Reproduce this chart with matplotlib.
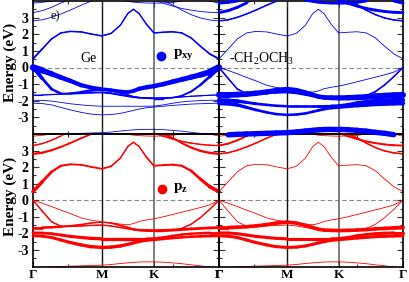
import matplotlib.pyplot as plt
import numpy as np
from matplotlib.collections import LineCollection

plt.rcParams['font.family'] = 'Liberation Serif'
plt.rcParams['mathtext.fontset'] = 'custom'
plt.rcParams['mathtext.rm'] = 'Liberation Serif'
plt.rcParams['mathtext.bf'] = 'Liberation Serif:bold'

# k-path Gamma - M - K - Gamma (fraction of path length)
kx = [0.00, 0.05, 0.10, 0.15, 0.20, 0.26, 0.31, 0.37, 0.42, 0.47, 0.51,
      0.54, 0.57, 0.61, 0.65, 0.70, 0.75, 0.80, 0.85, 0.90, 0.95, 1.00]
k_ticks = [0.0, 0.37, 0.65, 1.0]
k_labels = ['Γ', 'M', 'K', 'Γ']

# band energies (eV), same for all four panels
cb4 = [3.87, 3.92, 4.0, 4.1, 4.2, 4.3, 4.3, 4.25, 4.15, 4.05, 3.98,
       3.93, 3.9, 3.88, 3.87, 3.88, 3.92, 4.0, 4.1, 4.1, 4.0, 3.87]
cb3 = [3.3, 3.42, 3.62, 3.88, 4.1, 4.3, 4.45, 4.5, 4.5, 4.45, 4.4,
       4.35, 4.3, 4.2, 4.05, 3.87, 3.7, 3.55, 3.45, 3.37, 3.32, 3.3]
cb2 = [2.8, 2.87, 3.02, 3.22, 3.45, 3.75, 3.98, 4.15, 4.3, 4.4, 4.45,
       4.45, 4.4, 4.3, 4.2, 4.0, 3.77, 3.45, 3.18, 2.98, 2.86, 2.8]
cb1 = [0.52, 1.12, 1.72, 2.08, 2.17, 2.14, 2.02, 1.9, 2.05, 2.55, 3.25,
       3.5, 3.25, 2.6, 2.08, 2.12, 2.15, 2.08, 1.78, 1.28, 0.82, 0.52]
vb1 = [0.0, -0.18, -0.38, -0.6, -0.8, -1.07, -1.2, -1.3, -1.36, -1.44, -1.48,
       -1.41, -1.28, -1.19, -1.12, -1.0, -0.86, -0.72, -0.58, -0.44, -0.28, 0.0]
vb2 = [0.0, -0.66, -1.3, -1.57, -1.58, -1.55, -1.52, -1.5, -1.55, -1.65, -1.72,
       -1.78, -1.82, -1.85, -1.87, -1.87, -1.82, -1.7, -1.45, -1.05, -0.55, 0.0]
vb3 = [-1.65, -1.65, -1.63, -1.6, -1.55, -1.47, -1.38, -1.32, -1.38, -1.52, -1.65,
       -1.75, -1.8, -1.82, -1.83, -1.82, -1.8, -1.77, -1.73, -1.7, -1.67, -1.65]
vb4 = [-2.15, -2.17, -2.25, -2.4, -2.55, -2.7, -2.8, -2.85, -2.83, -2.76, -2.66,
       -2.58, -2.5, -2.42, -2.38, -2.33, -2.28, -2.24, -2.2, -2.18, -2.16, -2.15]
vb5 = [-1.97, -1.98, -2.02, -2.1, -2.18, -2.25, -2.3, -2.33, -2.33, -2.33, -2.33,
       -2.33, -2.33, -2.33, -2.32, -2.25, -2.15, -2.07, -2.02, -1.99, -1.97, -1.97]
vb6 = [-4.15, -4.05, -4.02, -4.0, -3.98, -3.96, -3.94, -3.92, -3.88, -3.82, -3.78,
       -3.75, -3.73, -3.72, -3.72, -3.74, -3.78, -3.83, -3.9, -3.96, -4.04, -4.15]

# projection weights, Ge p_xy (top left)
w_tl_vb1 = [0.95, 0.72, 0.62, 0.56, 0.52, 0.48, 0.44, 0.4, 0.38, 0.38, 0.4,
            0.44, 0.48, 0.5, 0.52, 0.54, 0.56, 0.58, 0.62, 0.66, 0.76, 0.95]
w_tl_vb2 = [0.5, 0.3, 0.25, 0.2, 0.15, 0.12, 0.12, 0.14, 0.16, 0.18, 0.18,
            0.16, 0.13, 0.1, 0.08, 0.08, 0.1, 0.12, 0.15, 0.2, 0.3, 0.5]
w_tl_vb3 = [0.04, 0.04, 0.05, 0.06, 0.1, 0.16, 0.24, 0.3, 0.24, 0.14, 0.08,
            0.05, 0.04, 0.04, 0.04, 0.04, 0.04, 0.04, 0.04, 0.04, 0.04, 0.04]
w_tl_cb1 = [0.16, 0.12, 0.1, 0.1, 0.1, 0.1, 0.1, 0.1, 0.1, 0.08, 0.08,
            0.08, 0.08, 0.08, 0.1, 0.1, 0.1, 0.1, 0.1, 0.1, 0.12, 0.16]

# ligand, top right
w_tr_vb3 = [0.75, 0.72, 0.7, 0.68, 0.65, 0.62, 0.62, 0.65, 0.62, 0.58, 0.55,
            0.52, 0.55, 0.58, 0.62, 0.65, 0.68, 0.7, 0.72, 0.75, 0.75, 0.75]
w_tr_vb5 = [0.5, 0.45, 0.4, 0.32, 0.28, 0.25, 0.25, 0.25, 0.25, 0.25, 0.25,
            0.28, 0.3, 0.35, 0.4, 0.42, 0.45, 0.48, 0.5, 0.5, 0.5, 0.5]
w_tr_vb4 = [0.5, 0.45, 0.4, 0.32, 0.28, 0.25, 0.25, 0.25, 0.25, 0.25, 0.25,
            0.28, 0.3, 0.35, 0.4, 0.42, 0.45, 0.48, 0.5, 0.5, 0.5, 0.5]
w_tr_vb2 = [0.1, 0.1, 0.1, 0.12, 0.15, 0.15, 0.15, 0.15, 0.15, 0.15, 0.15,
            0.15, 0.15, 0.15, 0.15, 0.15, 0.15, 0.15, 0.12, 0.1, 0.1, 0.1]
w_tr_vb6 = [0.65, 0.65, 0.65, 0.65, 0.65, 0.65, 0.65, 0.65, 0.65, 0.65, 0.65,
            0.65, 0.65, 0.65, 0.65, 0.65, 0.65, 0.65, 0.65, 0.65, 0.65, 0.65]
w_tr_cb3 = [0.3, 0.3, 0.3, 0.3, 0.3, 0.3, 0.3, 0.3, 0.3, 0.3, 0.3,
            0.3, 0.3, 0.3, 0.3, 0.3, 0.3, 0.3, 0.3, 0.3, 0.3, 0.3]
w_tr_cb2 = [0.1, 0.1, 0.1, 0.1, 0.1, 0.1, 0.1, 0.1, 0.1, 0.1, 0.1,
            0.1, 0.1, 0.1, 0.1, 0.1, 0.1, 0.1, 0.1, 0.1, 0.1, 0.1]
w_tr_cb4 = [0.3, 0.3, 0.3, 0.3, 0.3, 0.3, 0.3, 0.3, 0.3, 0.3, 0.3,
            0.3, 0.3, 0.3, 0.3, 0.3, 0.3, 0.3, 0.3, 0.3, 0.3, 0.3]

# Ge p_z, bottom left
w_bl_cb1 = [0.45, 0.32, 0.24, 0.18, 0.15, 0.13, 0.13, 0.13, 0.12, 0.1, 0.08,
            0.08, 0.08, 0.1, 0.13, 0.15, 0.16, 0.18, 0.22, 0.3, 0.38, 0.45]
w_bl_cb2 = [0.22, 0.2, 0.18, 0.15, 0.14, 0.14, 0.14, 0.14, 0.14, 0.14, 0.14,
            0.14, 0.14, 0.14, 0.14, 0.14, 0.14, 0.15, 0.18, 0.2, 0.22, 0.22]
w_bl_cb3 = [0.08, 0.08, 0.08, 0.08, 0.08, 0.08, 0.08, 0.08, 0.08, 0.08, 0.08,
            0.08, 0.08, 0.08, 0.08, 0.08, 0.08, 0.08, 0.08, 0.08, 0.08, 0.08]
w_bl_vb2 = [0.08, 0.08, 0.08, 0.08, 0.08, 0.08, 0.08, 0.08, 0.08, 0.08, 0.08,
            0.08, 0.08, 0.08, 0.08, 0.08, 0.08, 0.08, 0.08, 0.08, 0.08, 0.08]
w_bl_vb3 = [0.28, 0.26, 0.24, 0.2, 0.16, 0.12, 0.08, 0.06, 0.08, 0.12, 0.16,
            0.2, 0.24, 0.26, 0.28, 0.28, 0.28, 0.28, 0.28, 0.28, 0.28, 0.28]
w_bl_vb5 = [0.28, 0.28, 0.28, 0.3, 0.32, 0.34, 0.35, 0.35, 0.35, 0.35, 0.35,
            0.35, 0.33, 0.3, 0.28, 0.25, 0.22, 0.22, 0.22, 0.24, 0.26, 0.28]
w_bl_vb4 = [0.28, 0.28, 0.3, 0.32, 0.34, 0.36, 0.36, 0.36, 0.36, 0.36, 0.34,
            0.32, 0.3, 0.3, 0.3, 0.28, 0.26, 0.24, 0.24, 0.26, 0.27, 0.28]

# ligand, bottom right
w_br_vb3 = [0.45, 0.42, 0.4, 0.4, 0.4, 0.4, 0.4, 0.4, 0.4, 0.4, 0.4,
            0.4, 0.4, 0.4, 0.4, 0.4, 0.4, 0.4, 0.4, 0.4, 0.42, 0.45]
w_br_vb5 = [0.32, 0.32, 0.32, 0.32, 0.32, 0.32, 0.32, 0.32, 0.32, 0.32, 0.32,
            0.32, 0.32, 0.32, 0.32, 0.32, 0.32, 0.32, 0.32, 0.32, 0.32, 0.32]
w_br_vb4 = [0.32, 0.32, 0.32, 0.32, 0.32, 0.32, 0.32, 0.32, 0.32, 0.32, 0.32,
            0.32, 0.32, 0.32, 0.32, 0.32, 0.32, 0.32, 0.32, 0.32, 0.32, 0.32]
w_br_cb2 = [0.1, 0.1, 0.1, 0.1, 0.1, 0.1, 0.1, 0.1, 0.1, 0.1, 0.1,
            0.1, 0.1, 0.1, 0.1, 0.1, 0.1, 0.1, 0.1, 0.1, 0.1, 0.1]
w_br_cb3 = [0.16, 0.16, 0.16, 0.16, 0.16, 0.16, 0.16, 0.16, 0.16, 0.16, 0.16,
            0.16, 0.16, 0.16, 0.16, 0.16, 0.16, 0.16, 0.16, 0.16, 0.16, 0.16]

all_bands = [cb1, cb2, cb3, cb4, vb1, vb2, vb3, vb4, vb5, vb6]

BLUE = '#0000ff'
RED = '#ff0000'


def draw_panel(ax, color, fat):
    ax.patch.set_visible(False)
    for e in all_bands:
        ax.plot(kx, e, color=color, lw=0.6, zorder=2)
    x = np.array(kx)
    for e, w in fat:
        e = np.array(e)
        w = np.array(w)
        pts = np.column_stack([x, e])
        segs = np.stack([pts[:-1], pts[1:]], axis=1)
        lws = 0.6 + 5.0 * (w[:-1] + w[1:]) / 2
        keep = (np.abs(e[:-1]) < 4.08) & (np.abs(e[1:]) < 4.08)
        lc = LineCollection(list(segs[keep]), linewidths=lws[keep], colors=color,
                            capstyle='round', zorder=3)
        lc.set_clip_on(False)
        ax.add_collection(lc, autolim=False)

    ax.set_xlim(0, 1)
    ax.set_ylim(-4, 4)
    ax.axvline(k_ticks[1], color='#111111', lw=1.0, zorder=1.5)
    ax.axvline(k_ticks[2], color='#666666', lw=1.2, zorder=1.5)
    ax.axhline(0, color='#888888', lw=0.8, ls=(0, (4, 2.5)), zorder=1)
    ax.set_xticks(k_ticks)
    ax.set_xticks([0.19, 0.75], minor=True)
    ax.set_yticks(range(-3, 4))
    ax.set_yticks(np.arange(-3.5, 4, 1.0), minor=True)
    ax.tick_params(which='both', direction='in', top=True, right=True,
                   width=0.8, color='#333333')
    ax.tick_params(which='major', length=4)
    ax.tick_params(which='minor', length=2.5)
    for s in ax.spines.values():
        s.set_linewidth(1.2)
    ax.set_xticklabels([])
    ax.set_yticklabels([])


fig = plt.figure(figsize=(4.09, 2.82), dpi=100)
x_l, w_l = 33 / 409, 186 / 409
x_r, w_r = 219 / 409, 184 / 409
y_t, h_t = 1 - 134 / 282, 133 / 282
y_b, h_b = 1 - 266.5 / 282, 132.5 / 282

ax_bl = fig.add_axes([x_l, y_b, w_l, h_b])
ax_br = fig.add_axes([x_r, y_b, w_r, h_b])
ax_tl = fig.add_axes([x_l, y_t, w_l, h_t])
ax_tr = fig.add_axes([x_r, y_t, w_r, h_t])

draw_panel(ax_tl, BLUE, [(cb1, w_tl_cb1), (vb3, w_tl_vb3), (vb2, w_tl_vb2), (vb1, w_tl_vb1)])
draw_panel(ax_tr, BLUE, [(cb2, w_tr_cb2), (cb3, w_tr_cb3), (cb4, w_tr_cb4),
                         (vb2, w_tr_vb2), (vb4, w_tr_vb4), (vb5, w_tr_vb5),
                         (vb3, w_tr_vb3), (vb6, w_tr_vb6)])
draw_panel(ax_bl, RED, [(cb1, w_bl_cb1), (cb2, w_bl_cb2), (cb3, w_bl_cb3),
                        (vb2, w_bl_vb2), (vb3, w_bl_vb3), (vb5, w_bl_vb5), (vb4, w_bl_vb4)])
draw_panel(ax_br, RED, [(cb2, w_br_cb2), (cb3, w_br_cb3), (vb3, w_br_vb3),
                        (vb5, w_br_vb5), (vb4, w_br_vb4)])

ytl = ['-3', '-2', '-1', '0', '1', '2', '3']
for ax in (ax_tl, ax_bl):
    ax.set_yticklabels(ytl, fontsize=10, fontweight='bold')
    ax.tick_params(axis='y', pad=3)
for ax in (ax_bl, ax_br):
    ax.set_xticklabels(k_labels, fontsize=9.5, fontweight='bold')
    ax.tick_params(axis='x', pad=1.5)

fig.text(10 / 409, 1 - 62 / 282, 'Energy (eV)', rotation=90, ha='center',
         va='center', fontsize=11, fontweight='bold')
fig.text(10 / 409, 1 - 196 / 282, 'Energy (eV)', rotation=90, ha='center',
         va='center', fontsize=11, fontweight='bold')

ax_tl.text(0.121, 0.885, 'e)', transform=ax_tl.transAxes, fontsize=9,
           ha='center', va='center')
ax_tl.text(0.298, 0.571, 'Ge', transform=ax_tl.transAxes, fontsize=10,
           ha='center', va='center')
ax_tl.plot([0.687], [0.589], 'o', color=BLUE, ms=6, transform=ax_tl.transAxes)
ax_tl.text(0.755, 0.59, r'$\mathbf{p}_{\mathbf{xy}}$', transform=ax_tl.transAxes,
           fontsize=11, ha='left', va='center')
ax_bl.plot([0.692], [0.587], 'o', color=RED, ms=6, transform=ax_bl.transAxes)
ax_bl.text(0.755, 0.59, r'$\mathbf{p}_{\mathbf{z}}$', transform=ax_bl.transAxes,
           fontsize=11, ha='left', va='center')
ax_tr.text(0.054, 0.536, r'-CH$_2$OCH$_3$', transform=ax_tr.transAxes,
           fontsize=10, ha='left', va='baseline')

fig.savefig('out.png', dpi=100)
